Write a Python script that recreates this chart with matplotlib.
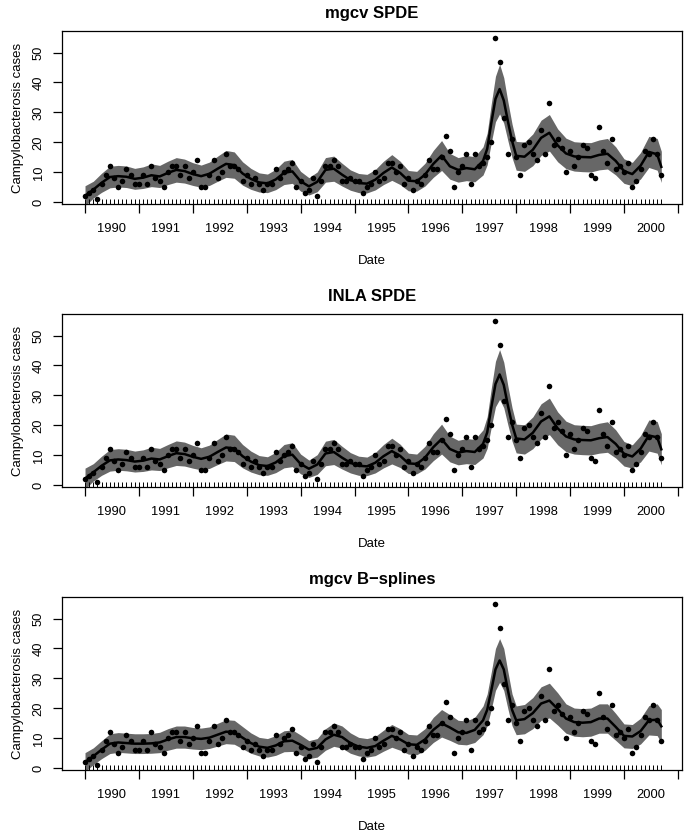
import numpy as np
import matplotlib
matplotlib.use("Agg")
import matplotlib.pyplot as plt
from matplotlib.ticker import FixedLocator, NullFormatter, FixedFormatter

plt.rcParams['font.family'] = ['Liberation Sans', 'DejaVu Sans']

# ---- data: campylobacteriosis cases, 13 periods per year from 1990 ----
cases = [2, 3, 4, 1, 6, 9, 12, 8, 5, 7, 11, 9, 6,
         6, 9, 6, 12, 8, 7, 5, 10, 12, 12, 9, 12, 8,
         10, 14, 5, 5, 9, 14, 8, 10, 16, 12, 12, 11, 7,
         9, 6, 8, 6, 4, 6, 6, 11, 8, 10, 11, 13, 5,
         7, 3, 4, 8, 2, 7, 12, 12, 14, 12, 7, 7, 8,
         7, 7, 3, 5, 6, 10, 7, 8, 13, 13, 10, 12, 6,
         8, 4, 7, 6, 9, 14, 11, 11, 15, 22, 17, 5, 10,
         12, 16, 6, 16, 12, 13, 15, 20, 55, 47, 28, 16, 21,
         15, 9, 19, 20, 16, 14, 24, 16, 33, 19, 21, 18, 10,
         17, 12, 15, 19, 18, 9, 8, 25, 17, 13, 21, 11, 12,
         10, 13, 5, 7, 11, 17, 16, 21, 16, 9]
start_year = 1990
periods_per_year = 13

# fitted curves read at these period indices
knot_idx = list(range(0, 97, 2)) + [97, 98, 99, 100, 101, 102, 103, 104] + list(range(106, 139, 2)) + [139]

fit_mgcv = [2.1, 4.2, 6.5, 8.4, 8.7, 8.5, 7.8, 8.2, 9.0, 8.6, 9.8, 10.8, 10.4, 9.4, 8.7, 9.5, 11.2, 12.8, 12.4, 9.6,
            7.8, 6.6, 6.3, 7.6, 9.8, 10.3, 7.0, 5.3, 6.8, 10.8, 11.2, 9.2, 7.4, 6.4, 6.2, 7.5, 9.8, 11.6, 9.8, 7.2,
            7.0, 9.2, 12.8, 15.6, 12.0, 10.8, 11.4, 11.0, 13.8,
            17.8, 26.5, 34.5, 37.8, 34.0, 27.0, 20.5, 15.5,
            15.2, 17.5, 21.5, 23.2, 19.0, 16.3, 15.3, 15.1, 15.0, 15.8, 16.2, 13.8, 10.4, 9.4, 12.2, 16.8, 16.0,
            11.8]
hw_mgcv = [3.4, 2.8, 3.2, 3.6, 3.6, 3.6, 3.5, 3.6, 3.8, 3.7, 3.9, 4.1, 4.0, 3.8, 3.7, 3.9, 4.2, 4.5, 4.4, 3.9,
           3.5, 3.2, 3.1, 3.4, 3.9, 4.0, 3.3, 2.9, 3.3, 4.1, 4.2, 3.8, 3.4, 3.2, 3.1, 3.4, 3.9, 4.3, 3.9, 3.4,
           3.3, 3.8, 4.5, 5.0, 4.3, 4.1, 4.2, 4.2, 4.7,
           5.3, 6.5, 7.6, 8.3, 7.6, 6.5, 5.6, 4.8,
           4.9, 5.3, 5.9, 6.1, 5.5, 5.1, 4.9, 4.9, 4.9, 5.0, 5.1, 4.7, 4.1, 3.9, 4.4, 5.2, 5.3,
           5.2]

fit_inla = [2.2, 4.3, 6.5, 8.3, 8.6, 8.4, 7.9, 8.2, 8.9, 8.6, 9.7, 10.7, 10.4, 9.5, 8.8, 9.5, 11.1, 12.6, 12.3, 9.7,
            7.9, 6.7, 6.4, 7.6, 9.7, 10.2, 7.1, 5.5, 6.9, 10.6, 11.1, 9.2, 7.5, 6.5, 6.3, 7.5, 9.7, 11.4, 9.8, 7.3,
            7.1, 9.2, 12.7, 15.4, 12.1, 10.9, 11.4, 11.1, 13.8,
            17.6, 26.0, 33.8, 37.0, 33.5, 26.6, 20.3, 15.6,
            15.3, 17.5, 21.3, 23.0, 19.0, 16.3, 15.3, 15.1, 15.0, 15.7, 16.1, 13.8, 10.5, 9.6, 12.2, 16.6, 16.0,
            12.0]
hw_inla = [3.5, 2.9, 3.2, 3.6, 3.6, 3.6, 3.5, 3.6, 3.8, 3.7, 3.9, 4.1, 4.0, 3.8, 3.7, 3.9, 4.2, 4.5, 4.4, 3.9,
           3.5, 3.2, 3.1, 3.4, 3.9, 4.0, 3.3, 2.9, 3.3, 4.1, 4.2, 3.8, 3.4, 3.2, 3.1, 3.4, 3.9, 4.3, 3.9, 3.4,
           3.3, 3.8, 4.5, 5.0, 4.3, 4.1, 4.2, 4.2, 4.7,
           5.3, 6.5, 7.6, 8.3, 7.6, 6.5, 5.6, 4.8,
           4.9, 5.3, 5.9, 6.1, 5.5, 5.1, 4.9, 4.9, 4.9, 5.0, 5.1, 4.7, 4.1, 3.9, 4.4, 5.2, 5.3,
           5.2]

fit_bs = [2.0, 4.0, 6.2, 8.2, 8.6, 8.4, 8.2, 8.2, 8.3, 8.6, 9.6, 10.4, 10.4, 10.0, 9.8, 10.2, 11.2, 12.2, 12.0, 10.2,
          8.4, 7.2, 6.8, 7.6, 9.0, 9.2, 7.8, 6.2, 6.8, 9.6, 11.2, 10.4, 8.4, 7.2, 6.8, 7.4, 9.2, 10.8, 9.6, 8.0,
          7.8, 9.6, 12.8, 15.0, 13.6, 12.0, 11.8, 12.8, 16.0,
          19.5, 26.0, 33.0, 36.0, 33.0, 26.0, 19.5, 16.0,
          16.4, 18.4, 21.6, 22.6, 19.8, 16.6, 15.4, 15.2, 15.4, 16.6, 16.6, 13.8, 10.8, 10.6, 12.4, 16.0, 16.2,
          14.0]
hw_bs = [3.2, 2.8, 3.0, 3.3, 3.3, 3.3, 3.3, 3.3, 3.3, 3.4, 3.6, 3.7, 3.7, 3.6, 3.6, 3.6, 3.8, 4.0, 4.0, 3.7,
         3.4, 3.1, 3.1, 3.3, 3.5, 3.6, 3.3, 3.0, 3.1, 3.6, 3.9, 3.7, 3.4, 3.1, 3.1, 3.2, 3.5, 3.8, 3.6, 3.3,
         3.3, 3.6, 4.2, 4.6, 4.3, 4.0, 4.0, 4.2, 4.8,
         5.3, 6.2, 7.0, 7.3, 7.0, 6.2, 5.3, 4.8,
         4.9, 5.2, 5.6, 5.8, 5.4, 4.9, 4.7, 4.7, 4.7, 4.9, 4.9, 4.5, 4.0, 4.0, 4.3, 4.9, 5.3,
         5.6]

titles = ["mgcv SPDE", "INLA SPDE", "mgcv B\u2212splines"]
year_labels = [str(y) for y in range(1990, 2001)]
ytick_vals = [0, 10, 20, 30, 40, 50]

# ---- figure ----
W, H = 685, 836
fig = plt.figure(figsize=(W / 100, H / 100), dpi=100)

t_obs = start_year + np.arange(len(cases)) / periods_per_year
t_knot = start_year + np.array(knot_idx) / periods_per_year

panels = [(fit_mgcv, hw_mgcv), (fit_inla, hw_inla), (fit_bs, hw_bs)]
left_px, right_px = 62, 682
for k, ((fit, hw), title) in enumerate(zip(panels, titles)):
    top_px = 31 + 283 * k
    bot_px = 204 + 283 * k
    ax = fig.add_axes([left_px / W, 1 - bot_px / H, (right_px - left_px) / W, (bot_px - top_px) / H])
    fit = np.array(fit)
    hw = np.array(hw)
    ax.fill_between(t_knot, fit - hw, fit + hw, color='#676767', lw=0, zorder=1)
    ax.plot(t_knot, fit, color='black', lw=1.8, zorder=2)
    ax.plot(t_obs, cases, 'o', color='black', ms=4.0, mec='none', zorder=3)
    # rug
    ax.vlines(t_obs, 0, 0.027, transform=ax.get_xaxis_transform(), color='black', lw=0.7, zorder=3)

    ax.set_xlim(1989.573, 2001.076)
    ax.set_ylim(-0.6, 57.2)

    ax.xaxis.set_major_locator(FixedLocator(list(range(1990, 2002))))
    ax.xaxis.set_major_formatter(NullFormatter())
    ax.xaxis.set_minor_locator(FixedLocator([y + 0.5 for y in range(1990, 2001)]))
    ax.xaxis.set_minor_formatter(FixedFormatter(year_labels))
    ax.tick_params(axis='x', which='major', direction='out', length=6.5, width=0.9, color='black')
    ax.tick_params(axis='x', which='minor', length=0, pad=14, labelsize=9.3)

    ax.set_yticks(ytick_vals)
    ax.set_yticklabels([str(v) for v in ytick_vals], rotation=90, va='center')
    ax.tick_params(axis='y', direction='out', length=6.5, width=0.9, labelsize=9.3, pad=6)

    for s in ax.spines.values():
        s.set_linewidth(0.9)
        s.set_color('black')

    fig.text((left_px + right_px) / 2 / W, 1 - (top_px - 13) / H, title, ha='center', va='baseline',
             fontsize=12, fontweight='bold')
    fig.text((left_px + right_px) / 2 / W, 1 - (bot_px + 57) / H, "Date", ha='center', va='center', fontsize=9.5)
    fig.text(18 / W, 1 - ((top_px + bot_px) / 2) / H, "Campylobacterosis cases", rotation=90,
             ha='center', va='center', fontsize=9.5)

fig.savefig("out.png", dpi=100)
